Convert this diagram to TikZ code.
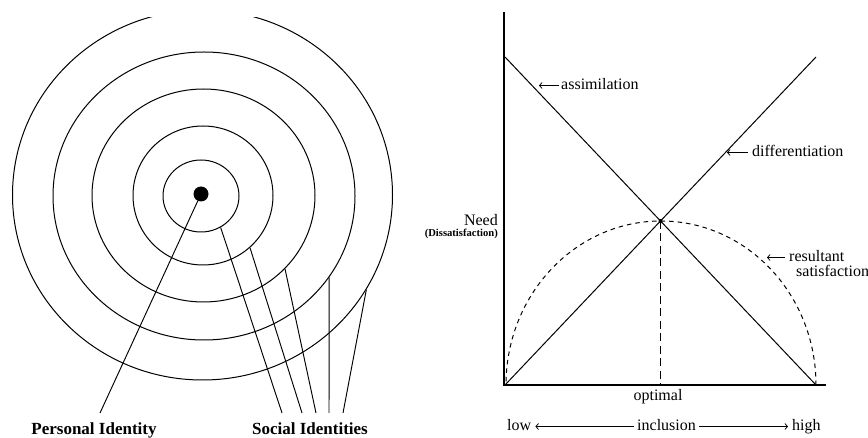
\documentclass[tikz,border=0pt]{standalone}
\usepackage{fontspec}
\setmainfont{Liberation Serif}
\usetikzlibrary{shapes.geometric,arrows.meta,calc}
\begin{document}
\begin{tikzpicture}[x=1pt,y=-1pt,
  ring/.style={draw, ellipse, inner sep=0pt, line width=1pt},
  spoke/.style={line width=0.95pt},
  idlbl/.style={font=\bfseries\fontsize{17}{19}\selectfont, inner sep=0pt, anchor=base},
  lbl/.style={font=\fontsize{16}{18}\selectfont, inner sep=0pt},
  small/.style={font=\bfseries\fontsize{10.6}{12}\selectfont, inner sep=0pt},
  axis/.style={line width=1.8pt},
  curve/.style={line width=1pt},
  ptr/.style={-{Straight Barb[length=2.6pt,width=6pt]}, line width=0.75pt},
]
\clip (0,0) rectangle (868,438);

% ---------- identity rings ----------
\node[ring, minimum width=76pt,  minimum height=72pt]  (c1) at (201,196) {};
\node[ring, minimum width=140pt, minimum height=139pt] (c2) at (203,195.5) {};
\node[ring, minimum width=223pt, minimum height=213pt] (c3) at (203.5,195.5) {};
\node[ring, minimum width=302pt, minimum height=288pt] (c4) at (204,196) {};
\begin{scope}
  \clip (0,18) rectangle (434,438);
  \node[ring, minimum width=380pt, minimum height=370pt] (c5) at (202.5,195) {};
\end{scope}
\node[circle, fill, inner sep=0pt, minimum size=15pt] (pd) at (201,194) {};

% label feet
\coordinate (p0) at (100,413);
\coordinate (s1) at (282,413);
\coordinate (s2) at (302,413);
\coordinate (s3) at (316,413);
\coordinate (s4) at (329,413);
\coordinate (s5) at (343,413);

\draw[spoke] (pd.-115) -- (p0);
\draw[spoke] (c1.-58) -- (s1);
\draw[spoke] (c2.-48) -- (s2);
\draw[spoke] (c3.-42) -- (s3);
\draw[spoke] (c4.-33) -- (s4);
\draw[spoke] (c5.-30) -- (s5);

\node[idlbl] (personal) at (94,434) {Personal Identity};
\node[idlbl] (social) at (310,434) {Social Identities};

% ---------- need / inclusion graph ----------
\coordinate (top) at (504,12);
\coordinate (org) at (504,385);
\coordinate (xend) at (826,385);
\draw[axis] (top) -- (org) -- (xend);

\coordinate (a0) at (505,57);
\coordinate (a1) at (816,385);
\coordinate (d0) at (505,385);
\coordinate (d1) at (816,57);
\draw[curve] (a0) -- (a1);
\draw[curve] (d0) -- (d1);

\coordinate (opt) at (660.5,221);
\coordinate (optfoot) at (660.5,385);
\fill (opt) circle (2pt);
\draw[line width=1.1pt, dash pattern=on 8pt off 4.5pt] (opt) -- (optfoot);

\coordinate (arcR) at (816,385);
\draw[line width=1pt, dash pattern=on 4.5pt off 4pt]
  (arcR) arc[start angle=0, end angle=180, x radius=155pt, y radius=164pt];

% curve labels
\node[lbl, anchor=base west] (assim) at (561,90) {assimilation};
\coordinate (assimtip) at (539,85.5);
\draw[ptr] ($(assim.west |- assimtip)+(-2,0)$) -- (assimtip);

\node[lbl, anchor=base west] (diff) at (752,157) {differentiation};
\coordinate (difftip) at (727,152.5);
\draw[ptr] ($(diff.west |- difftip)+(-4,0)$) -- (difftip);

\node[lbl, anchor=base west] (result) at (789,262) {resultant};
\node[lbl, anchor=base west] (satis) at (796,277) {satisfaction};
\coordinate (restip) at (767,257.5);
\draw[ptr] ($(result.west |- restip)+(-4,0)$) -- (restip);

\node[lbl, anchor=base east, text depth=0pt] (need) at (498,226) {Need};
\node[small, anchor=base east] (dis) at (498,237) {(Dissatisfaction)};

\node[lbl, anchor=base] (optimal) at (658,401) {optimal};

\node[lbl, anchor=base west] (low) at (507,431) {low};
\node[lbl, anchor=base west] (incl) at (637,431) {inclusion};
\node[lbl, anchor=base west] (high) at (792,431) {high};
\coordinate (axisy) at (0,426.5);
\draw[ptr] ($(incl.west |- axisy)+(-3,0)$) -- ($(low.east |- axisy)+(4,0)$);
\draw[ptr] ($(incl.east |- axisy)+(3,0)$) -- ($(high.west |- axisy)+(-4,0)$);
\end{tikzpicture}
\end{document}
